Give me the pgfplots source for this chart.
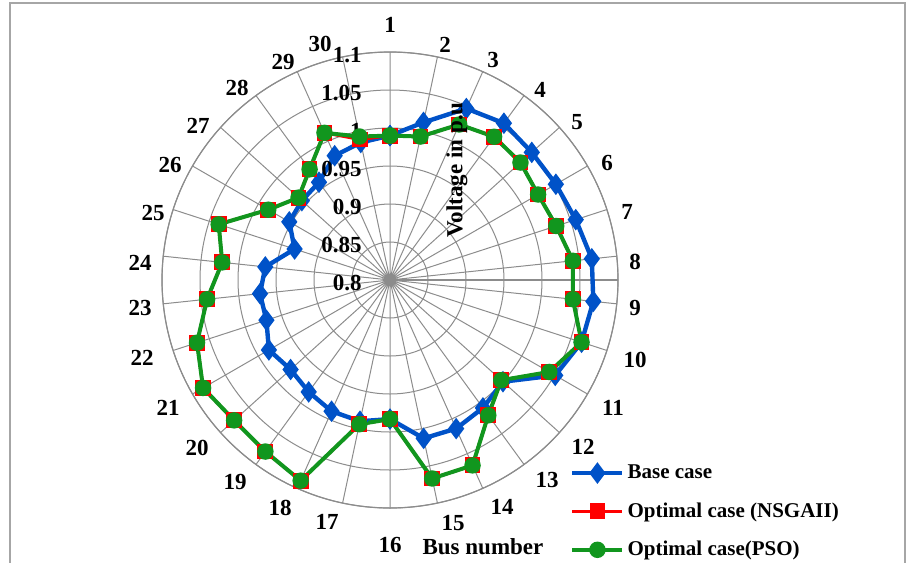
\documentclass[border=0pt]{standalone}
\usepackage{fontspec}
\setmainfont{Liberation Serif}
\usepackage{pgfplots}
\pgfplotsset{compat=1.18}
\usepackage{pgfplotstable}
\usepgfplotslibrary{polar}

\definecolor{cblue}{RGB}{0,82,200}
\definecolor{cred}{RGB}{255,0,0}
\definecolor{cgreen}{RGB}{17,150,30}
\definecolor{cgrid}{RGB}{140,140,140}

\pgfplotstableread{
bus base nsga pso
1 0.990 0.990 0.990
2 1.012 0.993 0.993
3 1.047 1.024 1.024
4 1.055 1.033 1.033
5 1.051 1.031 1.031
6 1.052 1.025 1.025
7 1.057 1.030 1.030
8 1.067 1.042 1.042
9 1.069 1.042 1.042
10 1.065 1.065 1.065
11 1.051 1.042 1.042
12 1.000 0.997 0.997
13 1.008 1.020 1.020
14 1.014 1.067 1.067
15 1.013 1.067 1.067
16 0.983 0.983 0.983
17 0.990 0.994 0.994
18 0.989 1.089 1.089
19 0.982 1.079 1.079
20 0.976 1.076 1.076
21 0.984 1.084 1.084
22 0.971 1.067 1.067
23 0.972 1.042 1.042
24 0.965 1.022 1.022
25 0.932 1.037 1.037
26 0.953 0.985 0.985
27 0.956 0.962 0.962
28 0.959 0.980 0.980
29 0.979 1.012 1.012
30 0.985 0.989 0.993
31 0.990 0.990 0.990
}\data

\newcommand{\lbl}{\bfseries\fontsize{11.5}{13}\selectfont}

\begin{document}
\begin{tikzpicture}[x=0.5pt,y=0.5pt]
\useasboundingbox (0,0) rectangle (913,-562);
\draw[gray!70, line width=1pt] (10,-3) rectangle (905,-620);
\coordinate (C) at (390,-280);
% bus-number labels (placed where the reference shows them)
\begin{scope}[every node/.style={font=\lbl}]
\node at (390,-25) {1};
\node at (445,-45) {2};
\node at (493,-60) {3};
\node at (540,-90) {4};
\node at (577,-122) {5};
\node at (607,-163) {6};
\node at (627,-212) {7};
\node at (635,-262) {8};
\node at (635,-308) {9};
\node at (635,-360) {10};
\node at (613,-408) {11};
\node at (583,-447) {12};
\node at (547,-480) {13};
\node at (502,-507) {14};
\node at (453,-523) {15};
\node at (390,-545) {16};
\node at (327,-522) {17};
\node at (280,-508) {18};
\node at (235,-482) {19};
\node at (197,-448) {20};
\node at (168,-408) {21};
\node at (142,-358) {22};
\node at (140,-308) {23};
\node at (140,-263) {24};
\node at (153,-213) {25};
\node at (170,-165) {26};
\node at (198,-126) {27};
\node at (237,-88) {28};
\node at (283,-62) {29};
\node at (320,-44) {30};
\end{scope}
\begin{polaraxis}[
  at={(C)}, anchor=center,
  scale only axis, width=228pt, height=228pt,
  xmin=0, xmax=360, ymin=0, ymax=0.3,
  xtick={6,18,...,354}, ytick={0.05,0.1,0.15,0.2,0.25,0.3},
  xticklabels={}, yticklabels={},
  major tick length=0pt,
  xmajorgrids, ymajorgrids,
  major grid style={cgrid, line width=0.5pt},
  axis line style={cgrid, line width=0.6pt},
  clip=false,
  legend style={at={(0.890,0.109)}, anchor=north west, draw=none, fill=none,
    font=\bfseries\fontsize{10.5}{12}\selectfont, row sep=6.5pt, inner sep=1pt,
    nodes={inner xsep=1.5pt}},
  legend cell align=left,
  legend image code/.code={\draw[mark repeat=2,mark phase=2] plot coordinates {(0pt,0pt)(12.5pt,0pt)(25pt,0pt)};},
]
\addplot[cblue, line width=2.2pt, mark=diamond*, mark size=3.6pt, mark options={solid}]
  table[x expr={mod(450-12*(\thisrow{bus}-1),360)}, y expr={\thisrow{base}-0.8}] {\data};
\addlegendentry{Base case}
\addplot[cred, line width=1.5pt, mark=square*, mark size=3.2pt]
  table[x expr={mod(450-12*(\thisrow{bus}-1),360)}, y expr={\thisrow{nsga}-0.8}] {\data};
\addlegendentry{Optimal case (NSGAII)}
\addplot[cgreen, line width=2pt, mark=*, mark size=3.1pt]
  table[x expr={mod(450-12*(\thisrow{bus}-1),360)}, y expr={\thisrow{pso}-0.8}] {\data};
\addlegendentry{Optimal case(PSO)}

% radial labels
\node[font=\lbl, anchor=east, xshift=-13.5pt, yshift=-1.5pt, inner sep=0.5pt] at (axis cs:90,0.30) {1.1};
\node[font=\lbl, anchor=east, xshift=-13.5pt, yshift=-1.5pt, inner sep=0.5pt] at (axis cs:90,0.25) {1.05};
\node[font=\lbl, anchor=east, xshift=-13.5pt, yshift=-1.5pt, inner sep=0.5pt] at (axis cs:90,0.20) {1};
\node[font=\lbl, anchor=east, xshift=-13.5pt, yshift=-1.5pt, inner sep=0.5pt] at (axis cs:90,0.15) {0.95};
\node[font=\lbl, anchor=east, xshift=-13.5pt, yshift=-1.5pt, inner sep=0.5pt] at (axis cs:90,0.10) {0.9};
\node[font=\lbl, anchor=east, xshift=-13.5pt, yshift=-1.5pt, inner sep=0.5pt] at (axis cs:90,0.05) {0.85};
\node[font=\lbl, anchor=east, xshift=-13.5pt, yshift=-1.5pt, inner sep=0.5pt] at (axis cs:90,0.00) {0.8};
\end{polaraxis}
\node[font=\lbl, rotate=90] at (457,-170) {Voltage in p.u};
\node[font=\lbl] at (483,-547) {Bus number};
\end{tikzpicture}
\end{document}
